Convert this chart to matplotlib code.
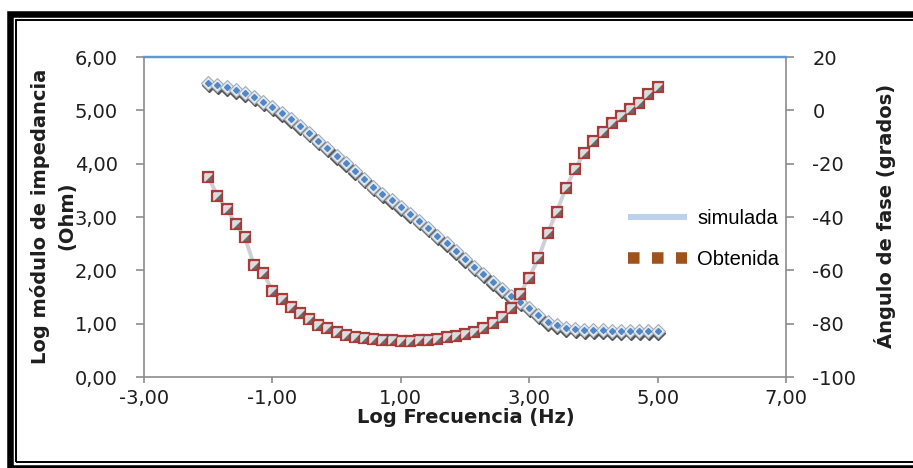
import matplotlib
matplotlib.use("Agg")
import matplotlib.pyplot as plt
from matplotlib.lines import Line2D
from matplotlib.patches import Rectangle
from matplotlib.transforms import offset_copy
from matplotlib.ticker import FuncFormatter

# log10 of frequency (Hz), 7 points per decade
log_freq = [-2.000, -1.857, -1.714, -1.571, -1.429, -1.286, -1.143, -1.000, -0.857, -0.714,
            -0.571, -0.429, -0.286, -0.143, 0.000, 0.143, 0.286, 0.429, 0.571, 0.714,
            0.857, 1.000, 1.143, 1.286, 1.429, 1.571, 1.714, 1.857, 2.000, 2.143,
            2.286, 2.429, 2.571, 2.714, 2.857, 3.000, 3.143, 3.286, 3.429, 3.571,
            3.714, 3.857, 4.000, 4.143, 4.286, 4.429, 4.571, 4.714, 4.857, 5.000]

# log |Z| (Ohm)
log_z = [5.52, 5.48, 5.43, 5.38, 5.32, 5.25, 5.16, 5.06, 4.95, 4.83,
         4.70, 4.57, 4.43, 4.29, 4.15, 4.01, 3.86, 3.71, 3.57, 3.44,
         3.31, 3.18, 3.05, 2.92, 2.79, 2.65, 2.51, 2.37, 2.22, 2.07,
         1.93, 1.79, 1.65, 1.51, 1.40, 1.29, 1.16, 1.04, 0.97, 0.92,
         0.90, 0.89, 0.88, 0.88, 0.87, 0.87, 0.87, 0.87, 0.87, 0.87]

# phase angle (degrees)
phase = [-24.9, -32.0, -37.1, -42.5, -47.6, -58.0, -60.9, -67.6, -70.6, -73.6,
         -76.1, -78.1, -80.5, -81.7, -83.2, -84.3, -84.9, -85.2, -85.6, -86.0,
         -86.2, -86.4, -86.4, -86.3, -86.0, -85.6, -85.0, -84.5, -83.8, -83.0,
         -81.7, -79.8, -77.5, -74.0, -68.8, -62.7, -55.5, -46.0, -38.1, -29.1,
         -22.0, -16.0, -11.5, -8.1, -4.8, -2.1, 0.5, 2.8, 6.1, 8.8]

x_ticks = [-3, -1, 1, 3, 5, 7]
z_ticks = [0, 1, 2, 3, 4, 5, 6]
phase_ticks = [-100, -80, -60, -40, -20, 0, 20]

GRAY = "#8c8c8c"
TXT = "#1e1e1e"

fig = plt.figure(figsize=(9.13, 4.68), dpi=100)
ax = fig.add_axes([0.1577, 0.1944, 0.7032, 0.6838])
ax2 = ax.twinx()

# impedance modulus: gray fit line, shadowed diamonds with blue core
ax.plot(log_freq, log_z, color="#d0d4d8", lw=2.5, zorder=1)
shadow = offset_copy(ax.transData, fig=fig, x=0.5, y=-2.0, units="dots")
ax.plot(log_freq, log_z, "D", ms=6.8, color="#555555", transform=shadow, zorder=2)
ax.plot(log_freq, log_z, "D", ms=6.8, mfc="#e6ebf0", mec="#a4adb7", mew=0.8, ls="none", zorder=3)
ax.plot(log_freq, log_z, "D", ms=3, color="#4f87c9", ls="none", zorder=4)

# phase angle: gray fit line, red framed squares
ax2.plot(log_freq, phase, color="#cdd1d5", lw=2.8, zorder=1)
ax2.plot(log_freq, phase, "s", ms=7.6, mfc="#6a6a6a", mec="#a83a3a", mew=1.6, ls="none", zorder=2)
tri = [(-1, 1), (1, 1), (-1, -1), (-1, 1)]
ax2.plot(log_freq, phase, marker=tri, ms=5.2, color="#dcdcdc", ls="none", zorder=3)

ax.set_xlim(-3, 7)
ax.set_ylim(0, 6)
ax2.set_ylim(-100, 20)
ax.set_xticks(x_ticks)
ax.set_yticks(z_ticks)
ax2.set_yticks(phase_ticks)

comma = FuncFormatter(lambda v, _: f"{v:.2f}".replace(".", ","))
ax.xaxis.set_major_formatter(comma)
ax.yaxis.set_major_formatter(comma)
ax2.yaxis.set_major_formatter(FuncFormatter(lambda v, _: f"{v:.0f}"))

for a in (ax, ax2):
    for s in a.spines.values():
        s.set_color(GRAY)
        s.set_linewidth(1.2)
    a.spines["top"].set_color("#5b9bd5")
    a.spines["top"].set_linewidth(1.6)
ax.spines["right"].set_visible(False)
ax2.spines["left"].set_visible(False)
ax2.spines["bottom"].set_visible(False)

ax.tick_params(axis="y", direction="out", length=5.5, width=1.2, color=GRAY,
               pad=13.5, labelsize=14, labelcolor=TXT)
ax.tick_params(axis="x", direction="out", length=4.5, width=1.2, color=GRAY,
               pad=4, labelsize=14, labelcolor=TXT)
ax2.tick_params(axis="y", direction="out", length=5.5, width=1.2, color=GRAY,
                pad=13.5, labelsize=14, labelcolor=TXT)

fig.text(0.510, 0.107, "Log Frecuencia (Hz)", ha="center", va="center",
         fontsize=14, fontweight="bold", color=TXT)
fig.text(0.058, 0.538, "Log módulo de impedancia\n(Ohm)", ha="center", va="center",
         rotation=90, fontsize=14, fontweight="bold", color=TXT, linespacing=1.5,
         multialignment="center")
fig.text(0.969, 0.538, "Ángulo de fase (grados)", ha="center", va="center",
         rotation=90, fontsize=14, fontweight="bold", color=TXT)

handles = [
    Line2D([], [], color="#bcd2ec", lw=4.3, solid_capstyle="butt"),
    Line2D([], [], color="#a0521c", lw=8.3, ls=(0, (1, 1.08)), dash_capstyle="butt"),
]
ax2.legend(handles, ["simulada", "Obtenida"], loc="center left",
           bbox_to_anchor=(0.754, 0.431), frameon=False, borderpad=0,
           borderaxespad=0, handlelength=2.93, handletextpad=0.5, labelspacing=1.1,
           prop={"family": "Liberation Sans", "size": 14.5})

# double black frame round the chart
fig.add_artist(Rectangle((10 / 913, 0.0), 2.0, (468 - 13.5) / 468,
                         transform=fig.transFigure, fill=False, ec="black", lw=4.7))
fig.add_artist(Rectangle((15.5 / 913, (468 - 462) / 468), 2.0, (462 - 19.5) / 468,
                         transform=fig.transFigure, fill=False, ec="black", lw=1.4))

fig.savefig("out.png", dpi=100)
